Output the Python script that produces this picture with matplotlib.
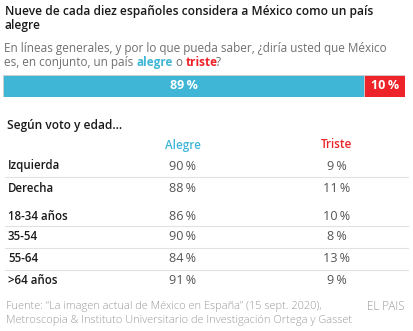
import matplotlib
matplotlib.use('Agg')
import matplotlib.pyplot as plt

# data
total_labels = ['Alegre', 'Triste']
total_values = [89, 10]
groups = ['Izquierda', 'Derecha', '18-34 años', '35-54', '55-64', '>64 años']
alegre = [90, 88, 86, 90, 84, 91]
triste = [9, 11, 10, 8, 13, 9]

BLUE = '#3fb6d5'
RED = '#ee2229'
DARK = '#1a1a1a'
SUB = '#707070'
FONT = 'Open Sans'

plt.rcParams['font.family'] = [FONT, 'DejaVu Sans']

W, H = 414, 331
fig = plt.figure(figsize=(W / 100, H / 100), dpi=100)

# full-figure axes in pixel coords for text
ax = fig.add_axes([0, 0, 1, 1])
ax.set_xlim(0, W)
ax.set_ylim(H, 0)
ax.axis('off')

# title
ax.text(5, 15.5, 'Nueve de cada diez españoles considera a México como un país',
        fontsize=8.65, fontweight='semibold', color=DARK, va='baseline')
ax.text(5, 29.5, 'alegre', fontsize=8.65, fontweight='semibold', color=DARK, va='baseline')

# subtitle
fs = 8.45
ax.text(4, 52, 'En líneas generales, y por lo que pueda saber, ¿diría usted que México',
        fontsize=fs, color=SUB, va='baseline')
t = ax.text(4, 66, 'es, en conjunto, un país ', fontsize=fs, color=SUB, va='baseline')
t = ax.annotate('alegre', xycoords=t, xy=(1, 0), va='bottom', fontsize=fs,
                color=BLUE, fontweight='bold')
t = ax.annotate(' o ', xycoords=t, xy=(1, 0), va='bottom', fontsize=fs, color=SUB)
t = ax.annotate('triste', xycoords=t, xy=(1, 0), va='bottom', fontsize=fs,
                color=RED, fontweight='bold')
ax.annotate('?', xycoords=t, xy=(1, 0), xytext=(-1.5, 0), textcoords='offset pixels',
            va='bottom', fontsize=fs, color=SUB)

# stacked total bar
bx = fig.add_axes([3 / W, 1 - 97 / H, 402 / W, 22 / H])
left = 0
for lab, v, c in zip(total_labels, total_values, [BLUE, RED]):
    bx.barh(0, v, left=left, color=c, height=1, edgecolor='#d0d0d0', linewidth=0.6)
    bx.text(left + v / 2, 0.02, f'{v}\u2009%', ha='center', va='center', color='white',
            fontsize=9, fontweight='bold')
    left += v
bx.set_xlim(0, sum(total_values))
bx.set_ylim(-0.5, 0.5)
bx.axis('off')

# table
ax.text(7, 125, 'Según voto y edad...', fontsize=8.6, color=DARK, va='center',
        fontweight='semibold')
ax.text(183, 145, 'Alegre', fontsize=8.4, color=BLUE, ha='center', va='center',
        fontweight='semibold')
ax.text(337, 145, 'Triste', fontsize=8.4, color=RED, ha='center', va='center',
        fontweight='semibold')

row_y = [166, 188, 216, 237, 259, 280]
line_after = [0, 2, 3, 4]
for i, (g, a, tr) in enumerate(zip(groups, alegre, triste)):
    y = row_y[i]
    ax.text(8, y, g, fontsize=8.3, color=DARK, va='center', fontweight='semibold')
    ax.text(183, y, f'{a}\u2009%', fontsize=9.1, color='#555555', ha='center', va='center')
    ax.text(337, y, f'{tr}\u2009%', fontsize=9.1, color='#555555', ha='center', va='center')
    if i in line_after:
        yl = (row_y[i] + row_y[i + 1]) / 2 if i != 2 else 225.5
        ax.plot([5, 408], [yl, yl], color='#e2e2e2', linewidth=0.8)

# footer
ffs = 7.9
ax.text(6, 309.5, 'Fuente: “La imagen actual de México en España” (15 sept. 2020),',
        fontsize=ffs, color='#9a9a9a', va='baseline', fontweight='light')
ax.text(6, 322.5, 'Metroscopia & Instituto Universitario de Investigación Ortega y Gasset',
        fontsize=ffs, color='#9a9a9a', va='baseline', fontweight='light')
ax.text(405, 309.5, 'EL PAIS', fontsize=8.4, color='#9a9a9a', ha='right', va='baseline',
        fontweight='light')

fig.savefig('out.png', dpi=100)
